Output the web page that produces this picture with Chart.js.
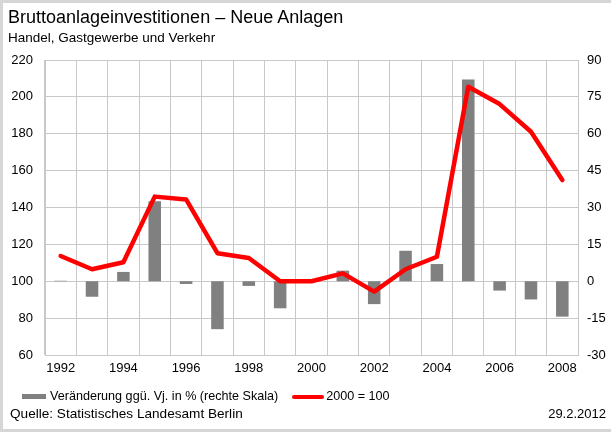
<!DOCTYPE html>
<html lang="de">
<head>
<meta charset="UTF-8">
<title>Bruttoanlageinvestitionen – Neue Anlagen</title>
<style>
  body { margin: 0; padding: 0; background: #fff; font-family: "Liberation Sans", Arial, sans-serif; color: #000; }
  #wrap { position: relative; width: 611px; height: 432px; overflow: hidden; }
  #frame { position: absolute; left: 0; top: 0; width: 611px; height: 432px; box-sizing: border-box;
           border: 3px solid #d6d6d6; border-right: none; pointer-events: none; }
  canvas { position: absolute; left: 0; top: 0; }
  .txt { position: absolute; white-space: nowrap; }
  #title { left: 8px; top: 7px; font-size: 18px; line-height: 20px; }
  #sub { left: 8px; top: 30px; font-size: 13.5px; line-height: 16px; }
  #leg { left: 22px; top: 388px; font-size: 12.6px; line-height: 16px; }
  .box { display: inline-block; vertical-align: middle; }
  #source { left: 10px; top: 406px; font-size: 13.6px; line-height: 16px; }
  #date { right: 5px; top: 406px; font-size: 13px; line-height: 16px; }
</style>
</head>
<body>
<div id="wrap">
  <canvas id="chart" width="611" height="432"></canvas>
  <div class="txt" id="title">Bruttoanlageinvestitionen – Neue Anlagen</div>
  <div class="txt" id="sub">Handel, Gastgewerbe und Verkehr</div>
  <div class="txt" id="leg">
    <span class="box" style="width:24px;height:5px;background:#808080;margin-right:4px"></span>Veränderung ggü. Vj. in % (rechte Skala)<span class="box" style="width:32px;height:4px;background:#ff0000;border-radius:2px;margin:0 2px 0 14px"></span>2000 = 100
  </div>
  <div class="txt" id="source">Quelle: Statistisches Landesamt Berlin</div>
  <div class="txt" id="date">29.2.2012</div>
  <div id="frame"></div>
</div>

<script src="https://cdn.jsdelivr.net/npm/chart.js"></script>
<script>
  // values
  const years = ['1992', '1993', '1994', '1995', '1996', '1997', '1998', '1999', '2000',
                 '2001', '2002', '2003', '2004', '2005', '2006', '2007', '2008'];
  // change vs previous year in % (right scale)
  const changePct = [0.2, -6.3, 3.8, 32.5, -1.1, -19.5, -1.9, -11.0, 0.0,
                     4.3, -9.3, 12.4, 7.0, 82.1, -3.8, -7.4, -14.4];
  // index, 2000 = 100 (left scale)
  const index2000 = [113.7, 106.5, 110.3, 145.9, 144.4, 115.2, 112.6, 100.0, 100.0,
                     104.3, 94.4, 106.5, 113.3, 205.5, 196.1, 181.1, 154.9];

  const gridColor = '#c8c8c8';
  const tickFont = { family: '"Liberation Sans", Arial, sans-serif', size: 13 };

  new Chart(document.getElementById('chart'), {
    data: {
      labels: years,
      datasets: [
        {
          type: 'line',
          label: '2000 = 100',
          data: index2000,
          yAxisID: 'yL',
          borderColor: '#ff0000',
          borderWidth: 4.5,
          pointRadius: 0,
          tension: 0,
          borderCapStyle: 'round',
          borderJoinStyle: 'round',
          order: 0
        },
        {
          type: 'bar',
          label: 'Veränderung ggü. Vj. in % (rechte Skala)',
          data: changePct,
          yAxisID: 'yR',
          backgroundColor: '#808080',
          barPercentage: 0.4,
          categoryPercentage: 1,
          order: 1
        }
      ]
    },
    options: {
      responsive: false,
      animation: false,
      layout: { padding: { top: 60, bottom: 57, left: 0, right: 0 } },
      plugins: { legend: { display: false }, tooltip: { enabled: false } },
      scales: {
        x: {
          offset: true,
          grid: { color: gridColor, offset: true, drawTicks: false },
          border: { color: gridColor },
          ticks: {
            color: '#000', font: tickFont, autoSkip: false, maxRotation: 0, padding: 6,
            callback: (v, i) => (i % 2 === 0 ? years[i] : '')
          },
          afterFit: s => { s.height = 20; }
        },
        yL: {
          position: 'left',
          min: 60, max: 220,
          grid: { color: gridColor, drawTicks: false },
          border: { color: gridColor },
          ticks: { stepSize: 20, color: '#000', font: tickFont, padding: 12 },
          afterFit: s => { s.width = 45; }
        },
        yR: {
          position: 'right',
          min: -30, max: 90,
          grid: { display: false, drawTicks: false },
          border: { display: false },
          ticks: { stepSize: 15, color: '#000', font: tickFont, padding: 9 },
          afterFit: s => { s.width = 33; }
        }
      }
    }
  });
</script>
</body>
</html>
